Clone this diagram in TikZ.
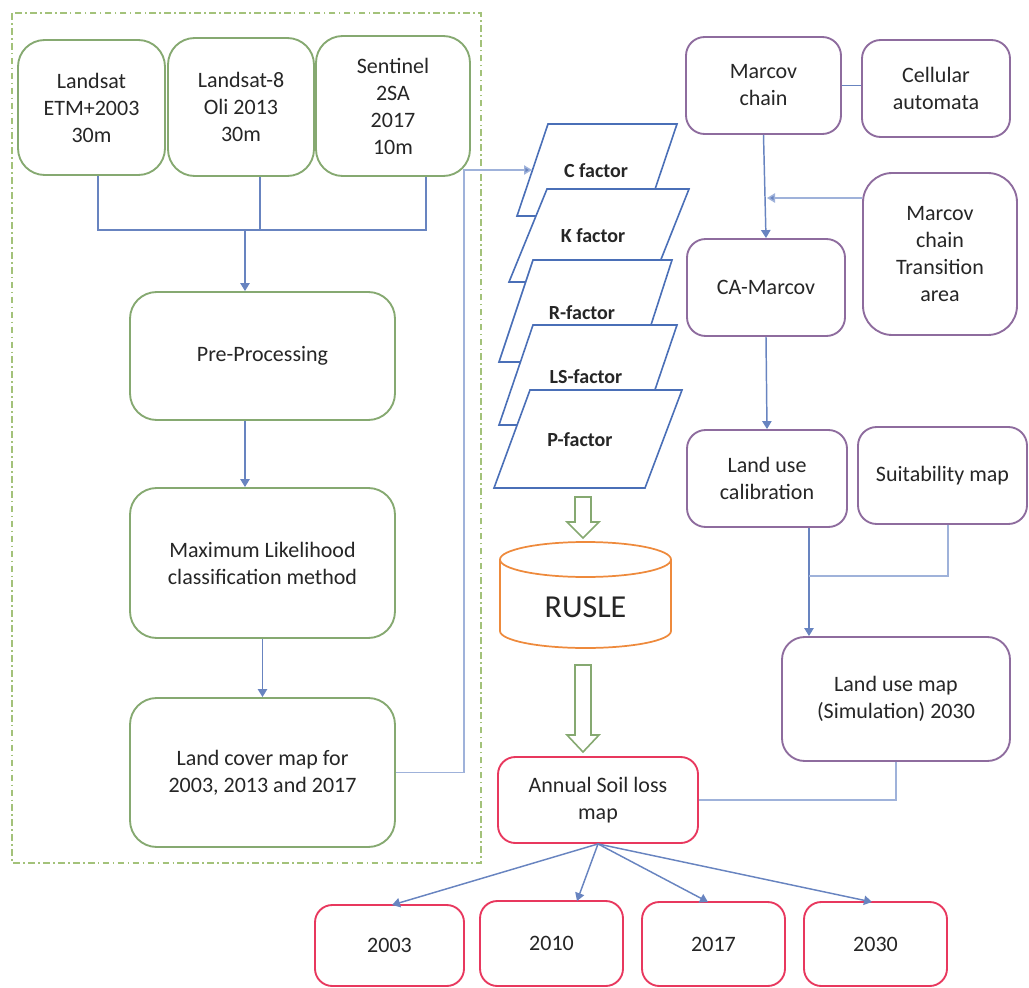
\documentclass[tikz,border=0pt]{standalone}
\usepackage{fontspec}
\setmainfont{Carlito}
\usetikzlibrary{arrows.meta,calc}
\definecolor{cGreen}{HTML}{86A971}
\definecolor{cFrame}{HTML}{A3C27A}
\definecolor{cPurple}{HTML}{8E6C9E}
\definecolor{cRed}{HTML}{E8385E}
\definecolor{cOrange}{HTML}{EE8A3C}
\definecolor{cBlue}{HTML}{4A6FB7}
\definecolor{cConn}{HTML}{6884C0}
\definecolor{cLight}{HTML}{9FB2DA}
\definecolor{cText}{HTML}{262626}
\tikzset{
  sz/.style 2 args={minimum width=#1*0.75pt, minimum height=#2*0.75pt},
  box/.style={draw, fill=white, line width=1.4pt, align=center, text=cText, inner sep=1pt,
    font=\fontsize{16.5}{20.25}\selectfont},
  gb/.style={box, draw=cGreen, rounded corners=20pt},
  pb/.style={box, draw=cPurple, rounded corners=14pt},
  rb/.style={box, draw=cRed, rounded corners=13pt},
  para/.style={draw=cBlue, fill=white, line width=1.2pt, line join=miter},
  plab/.style={font=\bfseries\fontsize{15}{18}\selectfont, text=cText, inner sep=1pt},
  conn/.style={draw=cConn, line width=1.1pt},
  lconn/.style={draw=cLight, line width=1.1pt},
  arr/.style={conn, -{Triangle[length=6pt,width=7pt]}},
  larr/.style={lconn, -{Triangle[length=6pt,width=7pt,fill=cConn]}},
  frame/.style={draw=cFrame, line width=1.1pt, dash pattern=on 5pt off 2.5pt on 1.2pt off 2.5pt},
  harrow/.style={draw=cGreen, line width=1.2pt, fill=white, line join=miter},
  cyl/.style={draw=cOrange, line width=1.3pt, fill=white},
}
\begin{document}
\begin{tikzpicture}[x=0.75pt,y=-0.75pt]
\useasboundingbox (0,0) rectangle (1029,988);
\draw[frame] (12,13) rectangle (481,863);

% green boxes
\node[gb, sz={147}{135}] (L1) at (91.5,107.5) {Landsat\\ETM+2003\\30m};
\node[gb, sz={146}{138}] (L2) at (241,107) {Landsat-8\\Oli 2013\\30m};
\node[gb, sz={154}{140}] (L3) at (393,106) {Sentinel\\2SA\\2017\\10m};
\node[gb, sz={265}{128}] (PP) at (262.5,356) {Pre-Processing};
\node[gb, sz={265}{150}] (ML) at (262.5,563) {Maximum Likelihood\\classification method};
\node[gb, sz={265}{149}] (LC) at (262.5,772.5) {Land cover map for\\2003, 2013 and 2017};

% top junction
\coordinate (b1) at (98,230);
\coordinate (b2) at (260,230);
\coordinate (b3) at (426,230);
\coordinate (bm) at (245,230);
\draw[conn] (L1.south -| b1) -- (b1) -- (b3) -- (L3.south -| b3);
\draw[conn] (L2.south -| b2) -- (b2);
\draw[arr] (bm) -- (PP.north -| bm);
\draw[arr] (PP.south -| bm) -- (ML.north -| bm);
\draw[arr] (ML.south) -- (LC.north);

% factor parallelograms
\draw[para] (548,124) -- (677,124) -- (646,216) -- (517,216) -- cycle;
\node[plab] (Cf) at (596,171) {C factor};
\draw[para] (547,189) -- (689,189) -- (652,282) -- (509,282) -- cycle;
\node[plab] (Kf) at (593,236) {K factor};
\draw[para] (533,260) -- (672,260) -- (639,362) -- (499,362) -- cycle;
\node[plab] (Rf) at (582,313) {R-factor};
\draw[para] (533,325) -- (677,325) -- (643,425) -- (499,425) -- cycle;
\node[plab] (LSf) at (586,377) {LS-factor};
\draw[para] (530,390) -- (682,390) -- (645,488) -- (494,488) -- cycle;
\node[plab] (Pf) at (580,440) {P-factor};

% land cover to C factor
\coordinate (cj) at (464,170);
\coordinate (cin) at (532,170);
\draw[larr] (LC.east) -| (cj) -- (cin);

% hollow arrows
\draw[harrow] (575,497) -- (591,497) -- (591,522) -- (599,522) -- (583,538) -- (567,522) -- (575,522) -- cycle;
\draw[harrow] (575,665) -- (591,665) -- (591,735) -- (599,735) -- (583,752) -- (567,735) -- (575,735) -- cycle;

% RUSLE cylinder
\draw[cyl] (500,559.5) -- (500,631) arc[start angle=180, end angle=0, x radius=85.5, y radius=17] -- (671,559.5);
\draw[cyl] (585.5,559.5) ellipse [x radius=85.5, y radius=17.5];
\node[text=cText, font=\fontsize{24}{28}\selectfont] (RU) at (585.5,607) {RUSLE};

% purple boxes
\node[pb, sz={155}{97}] (MC) at (763.5,85.5) {Marcov\\chain};
\node[pb, sz={148}{97}] (CAu) at (936,88.5) {Cellular\\automata};
\node[pb, sz={154}{162}, rounded corners=22pt] (MT) at (940,254) {Marcov\\chain\\Transition\\area};
\node[pb, sz={158}{97}] (CAM) at (766,287.5) {CA-Marcov};
\node[pb, sz={160}{97}] (LUC) at (767,478.5) {Land use\\calibration};
\node[pb, sz={169}{97}] (SM) at (942.5,475.5) {Suitability map};
\node[pb, sz={228}{124}, rounded corners=17pt] (LUM) at (896,699) {Land use map\\(Simulation) 2030};

\draw[conn] (MC.east) -- (MC.east -| CAu.west);
\draw[arr] (MC.south) -- (CAM.north);
\coordinate (mj) at (767,198);
\draw[larr] (MT.west |- mj) -- (mj);
\draw[arr] (CAM.south) -- (LUC.north);
\coordinate (lj) at (809,576);
\coordinate (sj) at (948,576);
\draw[arr] (LUC.south -| lj) -- (LUM.north -| lj);
\draw[lconn] (SM.south -| sj) -- (sj) -- (lj);

% red boxes
\node[rb, sz={200}{86}] (ASL) at (598,800) {Annual Soil loss\\map};
\draw[lconn] (LUM.south) |- (ASL.east);
\node[rb, sz={149}{81}] (Y1) at (389.5,945.5) {2003};
\node[rb, sz={143}{85}] (Y2) at (551.5,943.5) {2010};
\node[rb, sz={143}{84}] (Y3) at (713.5,944) {2017};
\node[rb, sz={143}{84}] (Y4) at (875.5,944) {2030};

\coordinate (t1) at (392,905);
\coordinate (t2) at (577,901);
\coordinate (t3) at (708,902);
\coordinate (t4) at (872,902);
\draw[arr] (ASL.south) -- (t1);
\draw[arr] (ASL.south) -- (t2);
\draw[arr] (ASL.south) -- (t3);
\draw[arr] (ASL.south) -- (t4);
\end{tikzpicture}
\end{document}
